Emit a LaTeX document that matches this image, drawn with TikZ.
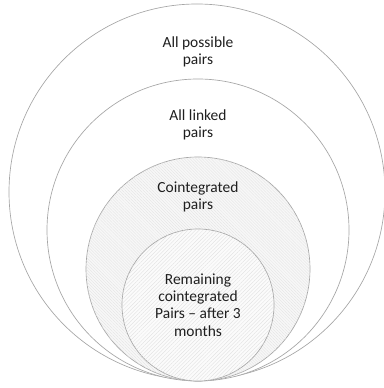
\documentclass[tikz,border=0pt]{standalone}
\usepackage{fontspec}
\setmainfont{Carlito}
\definecolor{ringLine}{HTML}{A6A6A6}
\definecolor{ringText}{HTML}{1F1F1F}
\usetikzlibrary{patterns.meta}

\begin{document}
\begin{tikzpicture}[x=0.75pt,y=0.75pt,
                    ring/.style={circle,draw=ringLine,line width=0.5pt,
                                 inner sep=0pt,outer sep=0pt},
                    caption/.style={align=center,text=ringText,font=\fontsize{11.6}{12.9}\selectfont}]
  \useasboundingbox (0,0) rectangle (384,388);
  \node[ring,minimum size=282pt,fill=white] (possible) at (197,196) {};
  \node[ring,minimum size=226.5pt,fill=white] (linked) at (198,158) {};
  % the two inner sets carry the fine hatching
  \node[ring,minimum size=168pt,fill=gray!6,
        postaction={pattern={Lines[angle=-45,distance=1.6pt,line width=0.25pt]},pattern color=gray!22}] (coint) at (198,119) {};
  \node[ring,minimum size=114pt,fill=gray!3,
        postaction={pattern={Lines[angle=45,distance=2pt,line width=0.25pt]},pattern color=gray!25}] (remain) at (198,83) {};
  \node[caption] (possibleText) at (198,336) {All possible\\pairs};
  \node[caption] (linkedText) at (198,263) {All linked\\pairs};
  \node[caption] (cointText) at (198,191) {Cointegrated\\pairs};
  \node[caption] (remainText) at (198,83) {Remaining\\cointegrated\\Pairs -- after 3\\months};
\end{tikzpicture}
\end{document}
